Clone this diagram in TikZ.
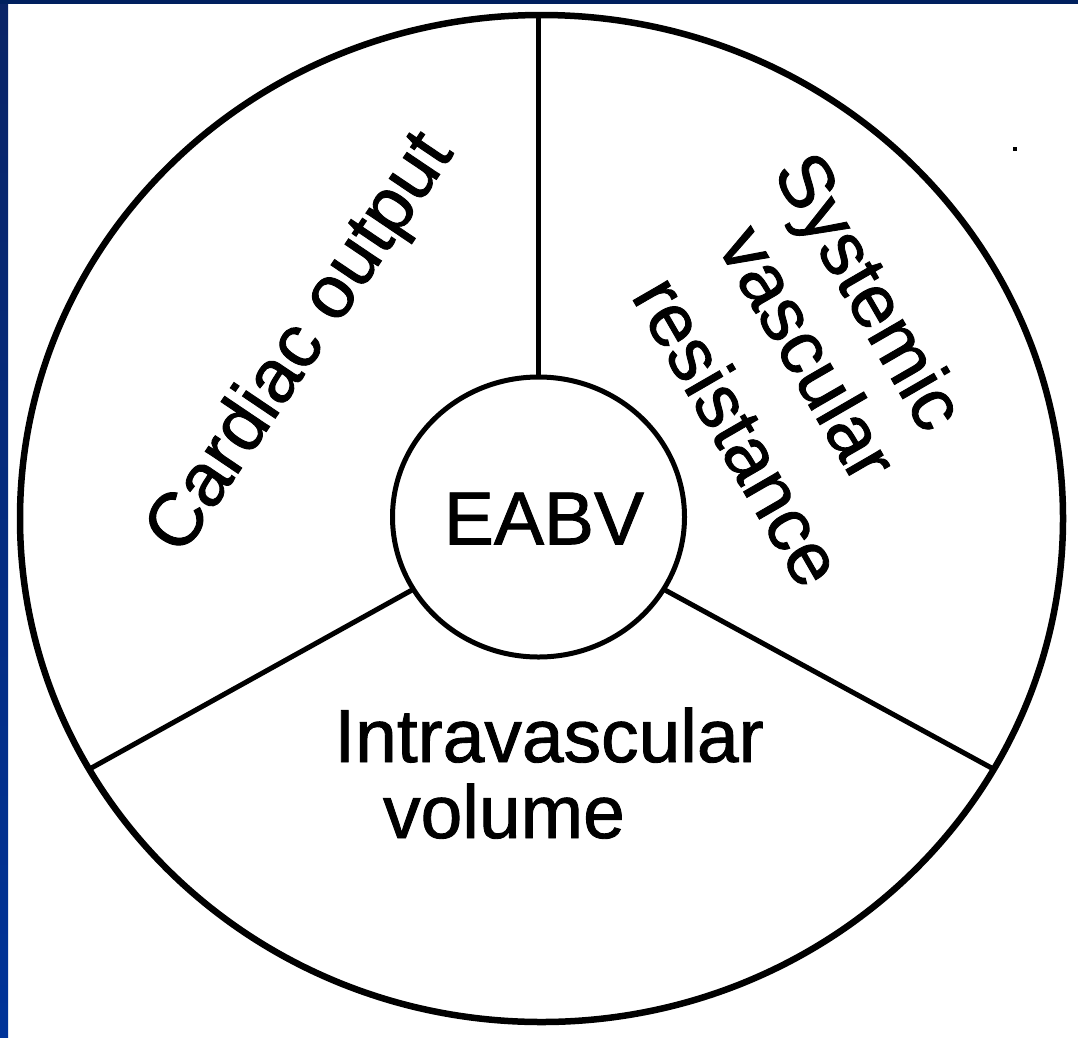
\documentclass[tikz,border=0pt]{standalone}
\usepackage{fontspec}
\setmainfont{Liberation Sans}
\newfontfamily\lblfont{Liberation Sans}[RawFeature={embolden=1.2}]
\usetikzlibrary{shapes.geometric}
\definecolor{navytop}{HTML}{00205E}
\definecolor{bartop}{HTML}{0A2466}
\definecolor{barbot}{HTML}{003399}
\tikzset{
  ring/.style={draw=black, ellipse, inner sep=0pt, outer sep=0pt},
  divider/.style={draw=black, line width=5pt},
  lbl/.style={font=\lblfont\fontsize{75}{86}\selectfont, inner sep=0pt, text=black},
}
\begin{document}
\begin{tikzpicture}[x=1pt,y=-1pt]
\useasboundingbox[fill=white] (0,0) rectangle (1078,1037);
% blue frame
\shade[top color=bartop, bottom color=barbot] (0,0) rectangle (8,1037);
\fill[navytop] (0,0) rectangle (1078,4);
% circles
\node[ring, line width=6.5pt, minimum width=1043pt, minimum height=1007pt] (outer) at (541.5,518.5) {};
\node[ring, line width=5pt, minimum width=292pt, minimum height=280pt] (inner) at (538.5,517) {};
\node[lbl] (eabv) at (544,518.5) {EABV};
% dividers
\draw[divider] (inner.north) -- (inner.north |- outer.north);
\draw[divider] (inner.210) -- (outer.209);
\draw[divider] (inner.330) -- (outer.331);
% labels
\node[lbl, anchor=base, rotate=56] (cardiac) at (318,355) {Cardiac output};
\node[lbl, anchor=base, rotate=-60] (sys) at (848,304) {Systemic};
\node[lbl, anchor=base, rotate=-60] (vasc) at (786,366) {vascular};
\node[lbl, anchor=base, rotate=-60] (resist) at (716,444) {resistance};
\node[lbl, anchor=base] (intra) at (549,762) {Intravascular};
\node[lbl, anchor=base] (vol) at (504,838) {volume};
% stray speck
\fill[black] (1013,147) rectangle (1017,151);
\end{tikzpicture}
\end{document}
